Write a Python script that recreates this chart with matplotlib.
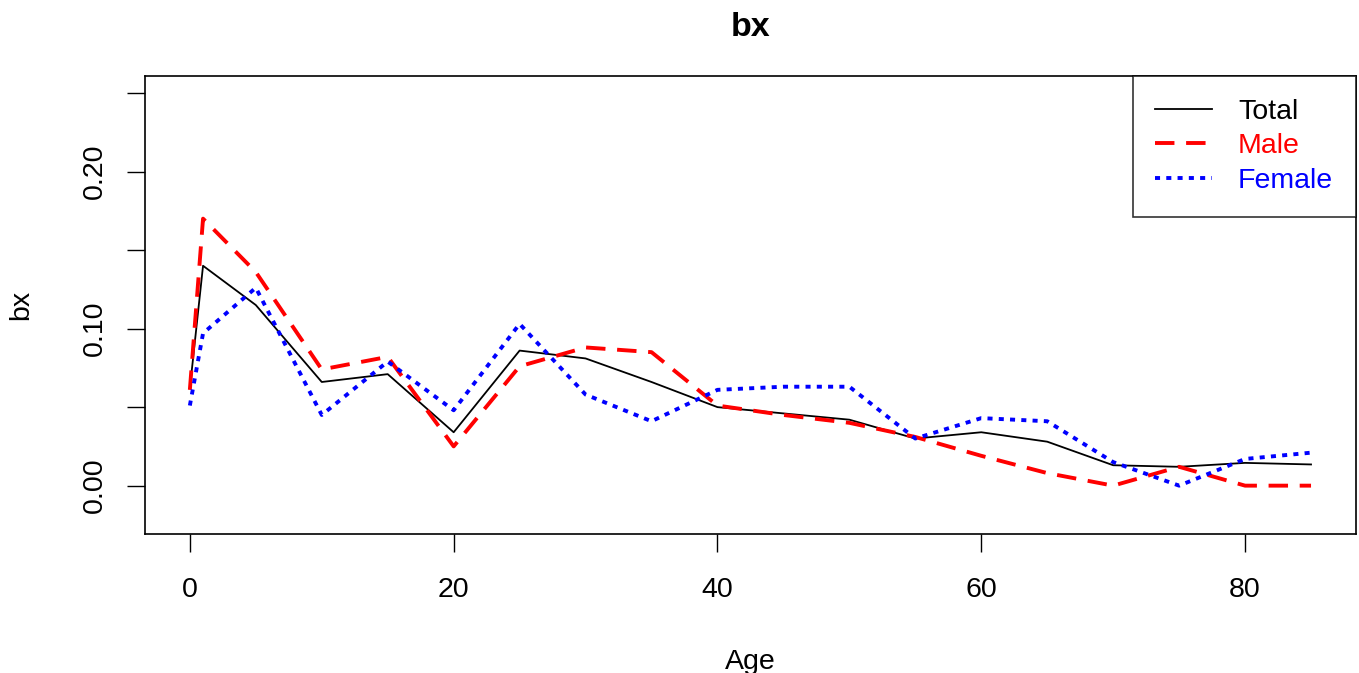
import matplotlib.pyplot as plt

plt.rcParams['font.family'] = ['Liberation Sans', 'DejaVu Sans']

# age groups and bx estimates
age = [0, 1, 5, 10, 15, 20, 25, 30, 35, 40, 45, 50, 55, 60, 65, 70, 75, 80, 85]
bx_total = [0.062, 0.140, 0.115, 0.066, 0.071, 0.034, 0.086, 0.081, 0.066, 0.050, 0.046,
            0.042, 0.030, 0.034, 0.028, 0.013, 0.012, 0.0145, 0.0135]
bx_male = [0.061, 0.170, 0.136, 0.074, 0.082, 0.025, 0.076, 0.088, 0.085, 0.051, 0.045,
           0.040, 0.031, 0.019, 0.008, 0.000, 0.012, 0.000, 0.000]
bx_female = [0.051, 0.097, 0.126, 0.045, 0.079, 0.048, 0.103, 0.058, 0.041, 0.061, 0.063,
             0.063, 0.030, 0.043, 0.041, 0.015, 0.000, 0.017, 0.021]

yticks = [0.00, 0.05, 0.10, 0.15, 0.20, 0.25]
ytick_labels = ['0.00', '', '0.10', '', '0.20', '']
xticks = [0, 20, 40, 60, 80]

fig = plt.figure(figsize=(13.59, 6.73), dpi=100)
ax = fig.add_axes([0.1067, 0.2065, 0.891, 0.6805])

ax.plot(age, bx_total, color='black', lw=1.3, label='Total')
ax.plot(age, bx_male, color='red', lw=2.8, dashes=(5, 3), label='Male')
ax.plot(age, bx_female, color='blue', lw=2.8, dashes=(1.3, 1.6), label='Female')

ax.set_xlim(-3.4, 88.4)
ax.set_ylim(-0.0308, 0.2608)
ax.set_xticks(xticks)
ax.set_yticks(yticks)
ax.set_yticklabels(ytick_labels, rotation=90, va='center')
ax.tick_params(direction='out', length=13, width=1, labelsize=20.5, pad=14)
ax.tick_params(axis='x', pad=18)
for s in ax.spines.values():
    s.set_linewidth(1.2)

ax.set_xlabel('Age', fontsize=20.5, labelpad=33)
ax.set_ylabel('bx', fontsize=20.5, labelpad=34)
ax.set_title('bx', fontsize=24.5, fontweight='bold', pad=29)

leg = ax.legend(loc='upper right', fontsize=20.5, frameon=True, fancybox=False,
                borderaxespad=0, handlelength=2.0, handletextpad=0.9,
                labelspacing=0.3, borderpad=0.8, labelcolor='linecolor')
leg.get_frame().set_edgecolor('black')
leg.get_frame().set_linewidth(1.2)

fig.savefig('out.png', dpi=100)
